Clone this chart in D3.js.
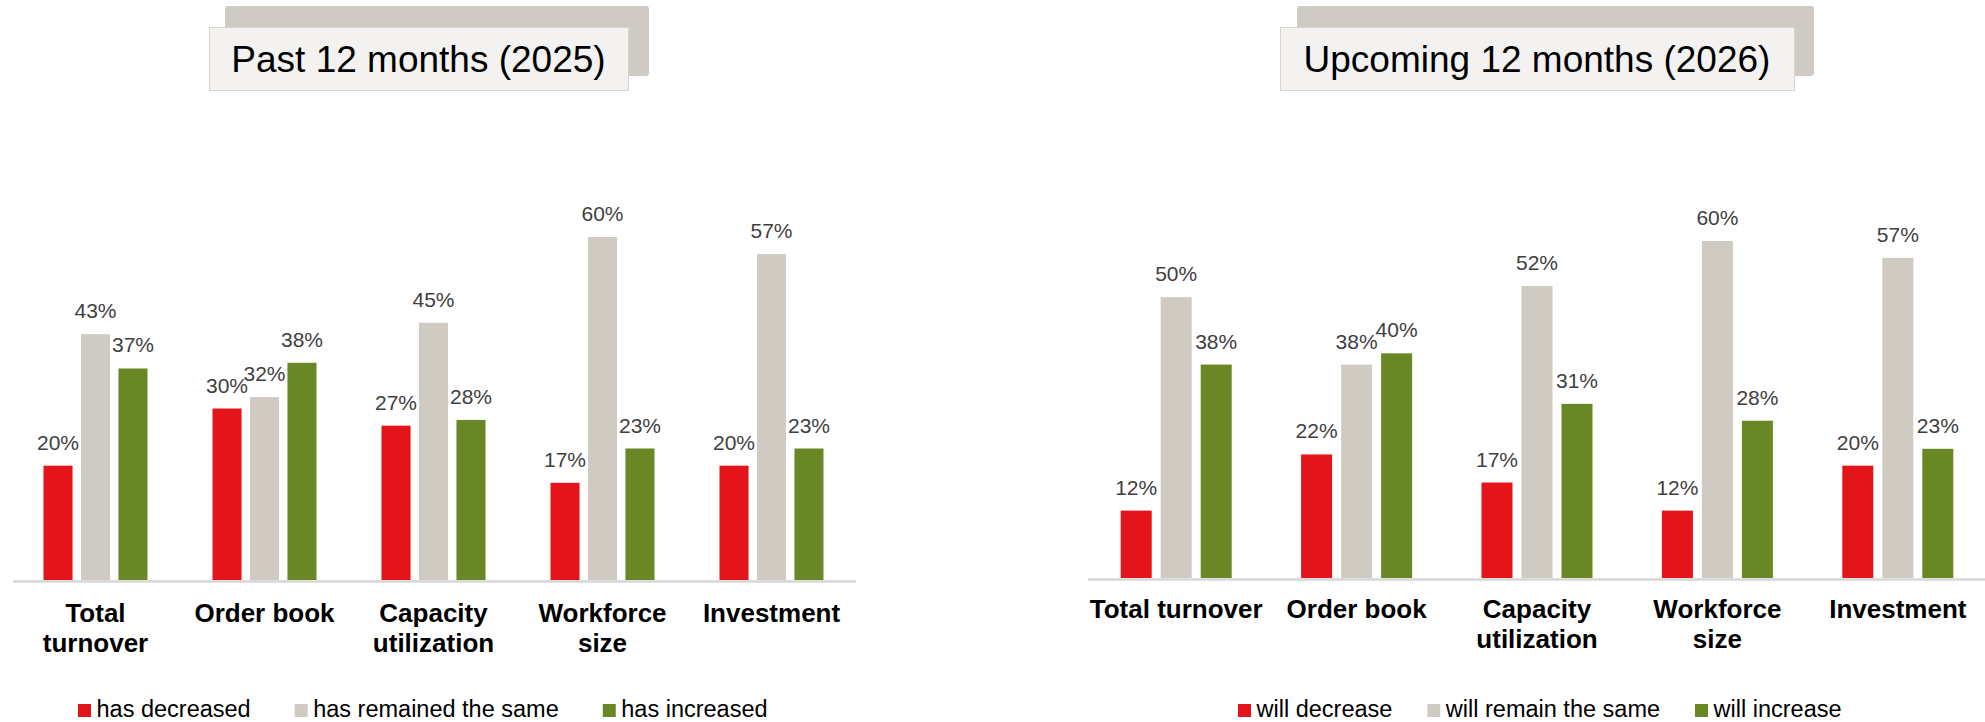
<!DOCTYPE html>
<html>
<head>
<meta charset="utf-8">
<script src="https://cdn.jsdelivr.net/npm/d3@7"></script>
<style>
  body { margin: 0; background: #fff; }
  svg { display: block; font-family: Arial, "Liberation Sans", sans-serif; }
</style>
</head>
<body>
<div id="chart"></div>
<script>
// categories shared by both panels
var categories = ["Total turnover", "Order book", "Capacity utilization", "Workforce size", "Investment"];
var seriesKeys = ["down", "same", "up"];

// past 12 months (2025)
var pastTitle = "Past 12 months (2025)";
var pastLegend = ["has decreased", "has remained the same", "has increased"];
var pastDown = [20, 30, 27, 17, 20];
var pastSame = [43, 32, 45, 60, 57];
var pastUp = [37, 38, 28, 23, 23];

// upcoming 12 months (2026)
var nextTitle = "Upcoming 12 months (2026)";
var nextLegend = ["will decrease", "will remain the same", "will increase"];
var nextDown = [12, 22, 17, 12, 20];
var nextSame = [50, 38, 52, 60, 57];
var nextUp = [38, 40, 31, 28, 23];

var colors = { down: "#e3151b", same: "#cfcac2", up: "#6a8725" };

var width = 1985, height = 722;

var svg = d3.select("#chart").append("svg")
  .attr("width", width)
  .attr("height", height);

function panel(opt) {
  var g = svg.append("g");

  var data = categories.map(function(c, i) {
    return { cat: c, down: opt.down[i], same: opt.same[i], up: opt.up[i] };
  });

  var x0 = d3.scaleBand().domain(categories).range(opt.xRange);
  var x1 = d3.scaleBand().domain(seriesKeys)
    .range([-opt.groupW / 2, opt.groupW / 2])
    .paddingInner(0.225);
  var y = d3.scaleLinear().domain([0, 60]).range([opt.base, opt.top60]);

  // title boxes
  var tb = opt.titleBox;
  g.append("rect")
    .attr("x", tb.bx).attr("y", 6)
    .attr("width", tb.bw).attr("height", 70)
    .attr("rx", 3)
    .attr("fill", "#cfcac3");
  g.append("rect")
    .attr("x", tb.fx + 0.5).attr("y", 27.5)
    .attr("width", tb.fw).attr("height", 63)
    .attr("fill", "#f3f2f0")
    .attr("stroke", "#d8d4ce")
    .attr("stroke-width", 1);
  g.append("text")
    .attr("x", tb.fx + tb.fw / 2)
    .attr("y", 72)
    .attr("text-anchor", "middle")
    .attr("font-size", "37px")
    .attr("fill", "#000")
    .text(opt.title);

  // baseline
  g.append("line")
    .attr("x1", opt.xRange[0] + 2).attr("x2", opt.xRange[1])
    .attr("y1", opt.base + 1.5).attr("y2", opt.base + 1.5)
    .attr("stroke", "#d6d6d6")
    .attr("stroke-width", 2.5);

  var groups = g.selectAll(".grp")
    .data(data)
    .enter().append("g")
      .attr("class", "grp")
      .attr("transform", function(d) { return "translate(" + (x0(d.cat) + x0.bandwidth() / 2) + ",0)"; });

  var bars = groups.selectAll(".bar")
    .data(function(d) { return seriesKeys.map(function(k) { return { key: k, value: d[k] }; }); })
    .enter();

  bars.append("rect")
    .attr("class", "bar")
    .attr("x", function(d) { return x1(d.key); })
    .attr("width", x1.bandwidth())
    .attr("y", function(d) { return y(d.value); })
    .attr("height", function(d) { return opt.base - y(d.value); })
    .attr("fill", function(d) { return colors[d.key]; });

  bars.append("text")
    .attr("x", function(d) { return x1(d.key) + x1.bandwidth() / 2; })
    .attr("y", function(d) { return y(d.value) - 16; })
    .attr("text-anchor", "middle")
    .attr("font-size", "21px")
    .attr("fill", "#404040")
    .text(function(d) { return d.value + "%"; });

  // category labels, wrapped to the band width
  groups.each(function(d) {
    var t = d3.select(this).append("text")
      .attr("text-anchor", "middle")
      .attr("font-size", "26px")
      .attr("font-weight", "bold")
      .attr("fill", "#000");
    var words = d.cat.split(" ");
    var lines = [];
    var line = words[0];
    var probe = t.append("tspan").text(line);
    for (var i = 1; i < words.length; i++) {
      probe.text(line + " " + words[i]);
      if (probe.node().getComputedTextLength() > x0.bandwidth()) {
        lines.push(line);
        line = words[i];
      } else {
        line = line + " " + words[i];
      }
    }
    lines.push(line);
    probe.remove();
    lines.forEach(function(l, j) {
      t.append("tspan")
        .attr("x", 0)
        .attr("y", opt.labelY + j * 30)
        .text(l);
    });
  });

  // legend
  var lg = g.append("g").attr("transform", "translate(" + opt.legendX + ",0)");
  var xpos = 0;
  opt.legend.forEach(function(name, i) {
    var item = lg.append("g").attr("transform", "translate(" + xpos + ",0)");
    item.append("rect")
      .attr("x", 0).attr("y", 704)
      .attr("width", 13).attr("height", 13)
      .attr("fill", colors[seriesKeys[i]]);
    var tx = item.append("text")
      .attr("x", 18.5).attr("y", 717)
      .attr("font-size", "23.5px")
      .attr("fill", "#000")
      .text(name);
    xpos += 18.5 + tx.node().getComputedTextLength() + opt.legendGap;
  });
}

panel({
  title: pastTitle,
  legend: pastLegend,
  down: pastDown, same: pastSame, up: pastUp,
  xRange: [11, 856],
  groupW: 104,
  base: 580, top60: 237,
  labelY: 622,
  titleBox: { bx: 225, bw: 424, fx: 209, fw: 419 },
  legendX: 78, legendGap: 44
});

panel({
  title: nextTitle,
  legend: nextLegend,
  down: nextDown, same: nextSame, up: nextUp,
  xRange: [1086, 1988],
  groupW: 111,
  base: 578, top60: 241,
  labelY: 618,
  titleBox: { bx: 1297, bw: 517, fx: 1280, fw: 514 },
  legendX: 1238, legendGap: 35
});
</script>
</body>
</html>
